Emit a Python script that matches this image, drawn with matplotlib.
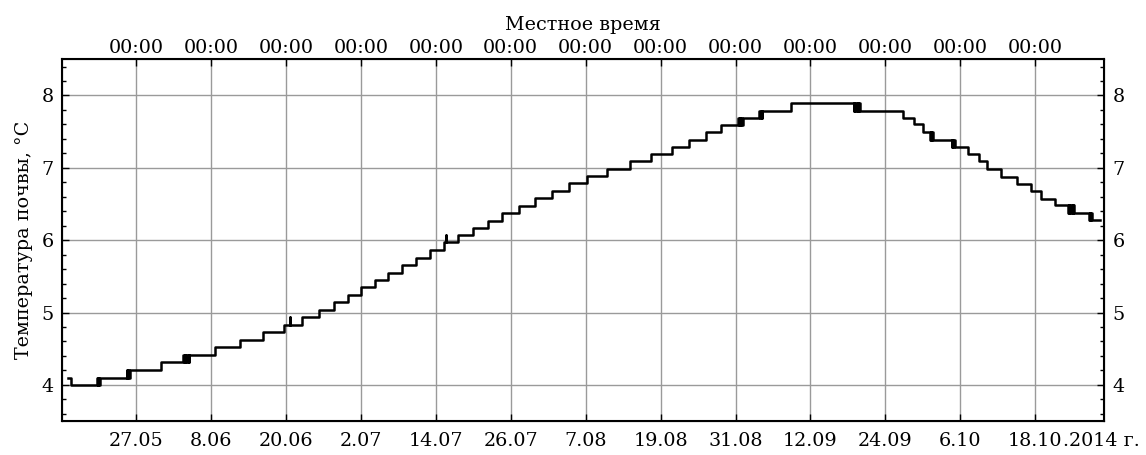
import matplotlib
matplotlib.use("Agg")
import matplotlib.pyplot as plt
from matplotlib.ticker import AutoMinorLocator
import pandas as pd

# ---- data ----
times = [
    "05-16 03:00", "05-16 14:00", "05-20 17:00", "05-20 20:00", "05-20 23:00", "05-21 02:00",
    "05-21 05:00", "05-25 12:00", "05-25 15:00", "05-25 18:00", "05-25 21:00", "05-26 00:00",
    "05-31 00:00", "06-03 13:00", "06-03 16:00", "06-03 19:00", "06-03 22:00", "06-04 01:00",
    "06-04 04:00", "06-04 07:00", "06-04 10:00", "06-04 13:00", "06-08 16:00", "06-12 16:00",
    "06-16 07:00", "06-19 18:00", "06-20 16:00", "06-20 17:00", "06-22 15:00", "06-25 08:00",
    "06-27 18:00", "06-29 22:00", "07-02 01:00", "07-04 07:00", "07-06 10:00", "07-08 15:00",
    "07-10 19:00", "07-13 02:00", "07-15 08:00", "07-15 15:00", "07-15 16:00", "07-17 15:00",
    "07-19 22:00", "07-22 08:00", "07-24 16:00", "07-27 08:00", "07-29 21:00", "08-01 14:00",
    "08-04 08:00", "08-07 04:00", "08-10 09:00", "08-14 02:00", "08-17 10:00", "08-20 19:00",
    "08-23 14:00", "08-26 07:00", "08-28 15:00", "08-31 10:00", "08-31 13:00", "08-31 16:00",
    "08-31 19:00", "08-31 22:00", "09-01 01:00", "09-01 04:00", "09-03 20:00", "09-03 23:00",
    "09-04 02:00", "09-04 05:00", "09-04 07:00", "09-08 21:00", "09-18 22:00", "09-19 01:00",
    "09-19 04:00", "09-19 07:00", "09-19 10:00", "09-19 13:00", "09-19 16:00", "09-19 19:00",
    "09-19 22:00", "09-26 21:00", "09-28 15:00", "09-29 23:00", "10-01 03:00", "10-01 06:00",
    "10-01 09:00", "10-01 12:00", "10-01 14:00", "10-04 14:00", "10-04 17:00", "10-04 20:00",
    "10-04 23:00", "10-05 02:00", "10-07 05:00", "10-09 00:00", "10-10 07:00", "10-12 11:00",
    "10-15 01:00", "10-17 08:00", "10-18 23:00", "10-21 04:00", "10-23 05:00", "10-23 08:00",
    "10-23 11:00", "10-23 14:00", "10-23 17:00", "10-23 20:00", "10-23 23:00", "10-24 02:00",
    "10-24 05:00", "10-26 14:00", "10-26 17:00", "10-26 20:00", "10-26 23:00", "10-27 02:00",
    "10-28 09:00",
]
temps = [
    4.10, 4.00, 4.10, 4.00, 4.10, 4.00,
    4.10, 4.21, 4.10, 4.21, 4.10, 4.21,
    4.31, 4.41, 4.31, 4.41, 4.31, 4.41,
    4.31, 4.41, 4.31, 4.41, 4.52, 4.62,
    4.73, 4.83, 4.94, 4.83, 4.94, 5.04,
    5.14, 5.24, 5.35, 5.45, 5.55, 5.66,
    5.76, 5.86, 5.97, 6.07, 5.97, 6.07,
    6.17, 6.27, 6.37, 6.47, 6.58, 6.68,
    6.79, 6.89, 6.99, 7.09, 7.19, 7.29,
    7.39, 7.49, 7.59, 7.69, 7.59, 7.69,
    7.59, 7.69, 7.59, 7.69, 7.79, 7.69,
    7.79, 7.69, 7.79, 7.90, 7.79, 7.90,
    7.79, 7.90, 7.79, 7.90, 7.79, 7.90,
    7.79, 7.69, 7.60, 7.49, 7.39, 7.49,
    7.39, 7.49, 7.39, 7.29, 7.39, 7.29,
    7.39, 7.29, 7.19, 7.09, 6.98, 6.88,
    6.78, 6.68, 6.57, 6.48, 6.38, 6.48,
    6.38, 6.48, 6.38, 6.48, 6.38, 6.48,
    6.38, 6.28, 6.38, 6.28, 6.38, 6.28,
    6.28,
]
tick_dates = ["05-27", "06-08", "06-20", "07-02", "07-14", "07-26", "08-07",
              "08-19", "08-31", "09-12", "09-24", "10-06", "10-18"]
bottom_labels = ["27.05", "8.06", "20.06", "2.07", "14.07", "26.07", "7.08",
                 "19.08", "31.08", "12.09", "24.09", "6.10", "18.10"]
top_labels = ["00:00"] * len(tick_dates)
year_suffix = ".2014 г."
x_range = ["05-15 03:30", "10-29 00:00"]
y_ticks = [4, 5, 6, 7, 8]

# ---- style ----
plt.rcParams["font.family"] = ["DejaVu Serif"]
FS = 13.8

fig = plt.figure(figsize=(11.46, 4.55), dpi=100)
ax = fig.add_axes([0.0541, 0.0747, 0.90925, 0.79495])

t = pd.to_datetime(["2014-" + s for s in times])
ax.plot(t, temps, drawstyle="steps-post", color="black", lw=1.8, zorder=3)

xl = pd.to_datetime(["2014-" + s for s in x_range])
ax.set_xlim(xl[0], xl[1])
ax.set_ylim(3.5, 8.5)

td = pd.to_datetime(["2014-" + s for s in tick_dates])
ax.set_xticks(td)
ax.set_xticklabels(bottom_labels, fontsize=FS)
ax.set_yticks(y_ticks)
ax.set_yticklabels([str(v) for v in y_ticks], fontsize=FS)
ax.yaxis.set_minor_locator(AutoMinorLocator(5))

ax.grid(True, which="major", color="#9a9a9a", lw=1.0, zorder=1)
ax.tick_params(axis="y", which="major", direction="in", length=5, width=1,
               left=True, right=True, labelright=True, pad=6)
ax.tick_params(axis="y", which="minor", direction="in", length=3, width=1,
               left=True, right=True)
ax.tick_params(axis="x", which="major", direction="in", length=5, width=1,
               top=False, pad=8)
for sp in ax.spines.values():
    sp.set_linewidth(1.5)

ax.set_ylabel("Температура почвы, °C", fontsize=FS, labelpad=6)

ax2 = ax.twiny()
ax2.set_xlim(ax.get_xlim())
ax2.set_xticks(td)
ax2.set_xticklabels(top_labels, fontsize=FS)
ax2.tick_params(axis="x", direction="in", length=5, width=1, pad=2)
ax2.set_xlabel("Местное время", fontsize=FS, labelpad=6)

# year suffix after last bottom tick label
last_lbl = ax.get_xticklabels()[-1]
ax.annotate(year_suffix, xy=(1, 0), xycoords=last_lbl, ha="left", va="bottom",
            fontsize=FS, annotation_clip=False)

fig.savefig("out.png", dpi=100)
